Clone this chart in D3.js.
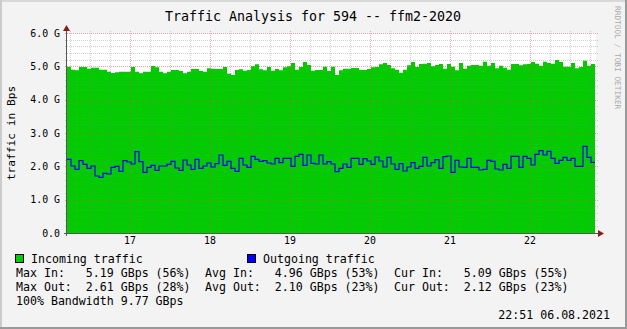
<!DOCTYPE html>
<html>
<head>
<meta charset="utf-8">
<script src="https://cdn.jsdelivr.net/npm/d3@7"></script>
<style>
  body { margin: 0; background: #f3f3f3; }
  svg text { font-family: 'DejaVu Sans Mono', monospace; white-space: pre; }
</style>
</head>
<body>
<div class="chart"></div>
<script>
// incoming / outgoing traffic in Gbps, one value per 1.2 h step
const inValues = [
  4.99, 4.90, 4.88, 4.98, 4.98, 4.93, 4.96, 4.96, 4.90, 4.90, 4.84, 4.80, 4.82, 4.84, 4.84, 4.84, 4.98,
  4.84, 4.79, 4.84, 4.84, 5.01, 4.97, 4.84, 4.79, 4.84, 4.89, 4.89, 4.86, 4.79, 4.84, 4.92, 4.92,
  4.86, 4.84, 4.94, 4.93, 4.92, 4.92, 4.98, 4.78, 4.74, 4.89, 4.91, 4.87, 4.89, 5.00, 5.06, 4.91, 4.88,
  4.98, 4.87, 4.92, 4.88, 4.97, 5.00, 5.10, 4.90, 4.98, 5.13, 5.04, 4.87, 4.89, 4.89, 4.99, 4.86,
  4.99, 4.74, 4.88, 4.93, 4.93, 4.95, 4.95, 4.89, 4.89, 4.92, 4.97, 4.98, 5.06, 5.10, 5.04, 4.94, 4.90,
  4.81, 4.90, 5.03, 5.13, 4.98, 5.07, 5.08, 5.10, 5.00, 5.04, 5.07, 4.93, 5.07, 4.99, 4.88, 5.10,
  4.93, 5.02, 5.04, 5.04, 5.02, 5.14, 5.02, 5.10, 4.94, 5.02, 4.96, 4.90, 5.07, 5.07, 5.03, 5.06, 5.07,
  5.13, 5.08, 5.02, 5.14, 5.10, 5.08, 5.19, 5.13, 4.99, 4.99, 5.10, 4.94, 4.98, 5.17, 5.02, 5.07
];
const outValues = [
  2.21, 2.01, 1.91, 2.17, 2.06, 1.94, 2.01, 1.71, 1.67, 1.79, 1.77, 1.97, 2.00, 1.85, 2.17, 2.13, 2.07,
  2.44, 2.14, 1.82, 1.97, 2.03, 1.88, 2.01, 2.01, 2.06, 2.15, 1.95, 1.88, 2.19, 2.04, 1.91, 2.21,
  1.94, 2.01, 2.10, 1.98, 2.08, 2.34, 2.03, 2.15, 1.94, 1.85, 2.24, 2.04, 1.97, 2.30, 2.21, 2.15, 2.17,
  2.10, 2.07, 2.24, 2.11, 2.24, 2.24, 2.00, 2.30, 2.36, 2.03, 2.34, 2.09, 2.07, 2.34, 2.07, 2.14,
  2.07, 1.84, 1.94, 2.07, 1.97, 2.24, 2.24, 2.06, 2.23, 2.16, 2.06, 2.28, 2.16, 1.98, 2.27, 2.07, 1.91,
  2.08, 1.86, 1.98, 2.11, 1.94, 2.00, 2.27, 2.01, 2.11, 2.20, 1.94, 2.29, 2.31, 1.82, 2.18, 1.98,
  1.97, 2.24, 1.97, 1.97, 1.89, 1.91, 2.18, 2.15, 1.92, 1.89, 2.06, 1.94, 2.30, 2.30, 1.97, 2.30, 2.24,
  2.04, 2.36, 2.47, 2.34, 2.45, 2.24, 2.09, 2.18, 2.27, 2.18, 2.24, 2.00, 2.00, 2.60, 2.27, 2.12
];
const dayLabels = [17, 18, 19, 20, 21, 22];
const yTicks = [0, 1, 2, 3, 4, 5, 6];
const yTickLabels = ['0.0', '1.0 G', '2.0 G', '3.0 G', '4.0 G', '5.0 G', '6.0 G'];
const seriesNames = ['Incoming traffic', 'Outgoing traffic'];
const statsIn = ['Max In:   5.19 GBps (56%)', 'Avg In:   4.96 GBps (53%)', 'Cur In:   5.09 GBps (55%)'];
const statsOut = ['Max Out:  2.61 GBps (28%)', 'Avg Out:  2.10 GBps (23%)', 'Cur Out:  2.12 GBps (23%)'];
const bandwidthText = '100% Bandwidth 9.77 GBps';
const stampText = '22:51 06.08.2021';

const W = 627, H = 329;
const margin = { top: 33, right: 31, bottom: 96, left: 67 };
const startDay = 16.2125, endDay = 22.825, stepDays = 0.05;

const svg = d3.select('.chart').append('svg').attr('width', W).attr('height', H);

// background + bevel
svg.append('rect').attr('width', W).attr('height', H).attr('fill', '#f3f3f3');
svg.append('rect').attr('x', 0).attr('y', 0).attr('width', W).attr('height', 2).attr('fill', '#d8d8d8');
svg.append('rect').attr('x', 0).attr('y', 0).attr('width', 2).attr('height', H).attr('fill', '#cbcbcb');
svg.append('rect').attr('x', W - 2).attr('y', 0).attr('width', 2).attr('height', H).attr('fill', '#999');
svg.append('rect').attr('x', 0).attr('y', H - 2).attr('width', W).attr('height', 2).attr('fill', '#999');

const x = d3.scaleLinear().domain([startDay, endDay]).range([margin.left, W - margin.right]);
const y = d3.scaleLinear().domain([0, 6]).range([H - margin.bottom, margin.top]);

// canvas
svg.append('rect')
  .attr('x', x(startDay)).attr('y', y(6))
  .attr('width', x(endDay) - x(startDay)).attr('height', y(0) - y(6))
  .attr('fill', '#fff');

const inPts = inValues.map((v, i) => [startDay + i * stepDays, v]);
inPts.push([startDay + inValues.length * stepDays, inValues[inValues.length - 1]]);
const outPts = outValues.map((v, i) => [startDay + i * stepDays, v]);
outPts.push([startDay + outValues.length * stepDays, outValues[outValues.length - 1]]);

const area = d3.area().curve(d3.curveStepAfter)
  .x((d) => x(d[0])).y0(y(0)).y1((d) => y(d[1]));
svg.append('path').datum(inPts).attr('d', area).attr('fill', '#00cc00');

// grid
const grid = svg.append('g').attr('shape-rendering', 'crispEdges');
const minorY = d3.range(0.2, 6.01, 0.2).filter((v) => Math.abs(v - Math.round(v)) > 0.01);
grid.selectAll('.hminor').data(minorY).join('line')
  .attr('x1', x(startDay) - 2).attr('x2', x(endDay) + 2)
  .attr('y1', (d) => Math.round(y(d)) + 0.5).attr('y2', (d) => Math.round(y(d)) + 0.5)
  .attr('stroke', 'rgba(120,120,120,0.35)').attr('stroke-dasharray', '1,1');
const minorX = d3.range(16.25, endDay, 0.25).filter((v) => Math.abs(v - Math.round(v)) > 0.01);
grid.selectAll('.vminor').data(minorX).join('line')
  .attr('x1', (d) => Math.round(x(d)) + 0.5).attr('x2', (d) => Math.round(x(d)) + 0.5)
  .attr('y1', y(6) - 2).attr('y2', y(0) + 2)
  .attr('stroke', 'rgba(120,120,120,0.35)').attr('stroke-dasharray', '1,1');
grid.selectAll('.hmajor').data(yTicks.slice(1)).join('line')
  .attr('x1', x(startDay) - 2).attr('x2', x(endDay) + 2)
  .attr('y1', (d) => Math.round(y(d)) + 0.5).attr('y2', (d) => Math.round(y(d)) + 0.5)
  .attr('stroke', 'rgba(222,80,80,0.5)').attr('stroke-dasharray', '1,1');
grid.selectAll('.vmajor').data(dayLabels).join('line')
  .attr('x1', (d) => Math.round(x(d)) + 0.5).attr('x2', (d) => Math.round(x(d)) + 0.5)
  .attr('y1', y(6) - 2).attr('y2', y(0) + 2)
  .attr('stroke', 'rgba(222,80,80,0.5)').attr('stroke-dasharray', '1,1');

// outgoing line
const line = d3.line().curve(d3.curveStepAfter).x((d) => x(d[0])).y((d) => y(d[1]));
svg.append('path').datum(outPts).attr('d', line)
  .attr('fill', 'none').attr('stroke', '#0000ff').attr('stroke-width', 1.2);

// axes with arrows
const axisCol = '#555';
const arrowCol = '#8b1a1a';
svg.append('line').attr('x1', x(startDay) - 0.5).attr('x2', x(startDay) - 0.5)
  .attr('y1', y(0) + 3).attr('y2', y(6) - 4).attr('stroke', axisCol);
svg.append('line').attr('x1', x(startDay) - 3).attr('x2', x(endDay) + 4)
  .attr('y1', y(0) + 0.5).attr('y2', y(0) + 0.5).attr('stroke', axisCol);
svg.append('path')
  .attr('d', `M${x(startDay) - 4},${y(6) - 2} L${x(startDay) - 0.5},${y(6) - 8} L${x(startDay) + 3},${y(6) - 2} Z`)
  .attr('fill', arrowCol);
svg.append('path')
  .attr('d', `M${x(endDay) + 2},${y(0) - 3} L${x(endDay) + 8},${y(0) + 0.5} L${x(endDay) + 2},${y(0) + 4} Z`)
  .attr('fill', arrowCol);

// y tick labels
svg.selectAll('.ylab').data(yTicks).join('text')
  .attr('x', 60).attr('y', (d) => y(d) + 3.5)
  .attr('text-anchor', 'end').attr('font-size', '9.9px').attr('fill', '#000')
  .text((d, i) => yTickLabels[i]);

// x tick labels
svg.selectAll('.xlab').data(dayLabels).join('text')
  .attr('x', (d) => x(d)).attr('y', y(0) + 11)
  .attr('text-anchor', 'middle').attr('font-size', '9.9px').attr('fill', '#000')
  .text((d) => d);

// title
svg.append('text').attr('x', 313).attr('y', 21).attr('text-anchor', 'middle')
  .attr('font-size', '13.3px').text('Traffic Analysis for 594 -- ffm2-2020');

// y title
svg.append('text').attr('transform', `translate(15,${(y(0) + y(6)) / 2}) rotate(-90)`)
  .attr('text-anchor', 'middle').attr('font-size', '11.2px').text('traffic in Bps');

// watermark
svg.append('text').attr('transform', 'translate(615,6) rotate(90)')
  .attr('font-size', '7.8px').attr('fill', '#aaa').text('RRDTOOL / TOBI OETIKER');

// legend
const legendColors = ['#00cc00', '#0000ff'];
const legendX = [15, 247];
seriesNames.forEach((name, i) => {
  svg.append('rect').attr('x', legendX[i] + 0.5).attr('y', 254.5).attr('width', 8).attr('height', 8)
    .attr('fill', legendColors[i]).attr('stroke', '#000').attr('stroke-width', 1);
  svg.append('text').attr('x', legendX[i] + 16).attr('y', 263).attr('font-size', '11.6px').text(name);
});
const colX = [16, 205, 394];
statsIn.forEach((s, i) => {
  svg.append('text').attr('x', colX[i]).attr('y', 277).attr('font-size', '11.6px').text(s);
});
statsOut.forEach((s, i) => {
  svg.append('text').attr('x', colX[i]).attr('y', 291).attr('font-size', '11.6px').text(s);
});
svg.append('text').attr('x', 16).attr('y', 305).attr('font-size', '11.6px').text(bandwidthText);
svg.append('text').attr('x', 610).attr('y', 319).attr('text-anchor', 'end')
  .attr('font-size', '11.6px').text(stampText);
</script>
</body>
</html>
